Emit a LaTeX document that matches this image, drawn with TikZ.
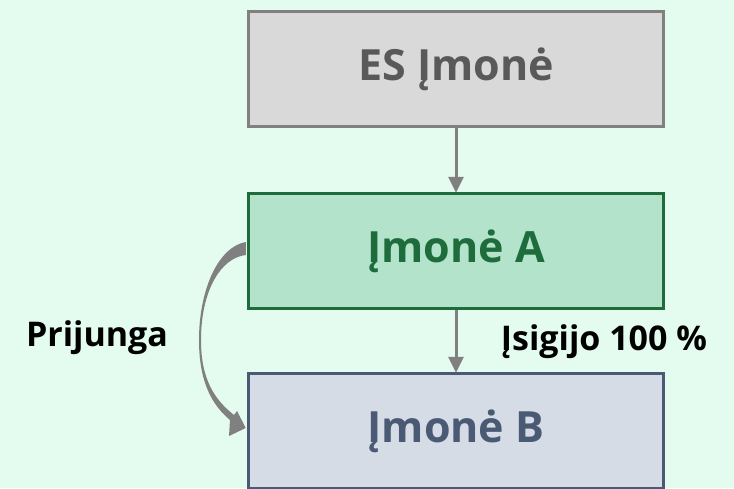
\documentclass[tikz,border=0pt]{standalone}
\usepackage{fontspec}
\setmainfont{Open Sans}
\usetikzlibrary{arrows.meta,calc}
\definecolor{bgc}{HTML}{E3FCEF}
\definecolor{grayfill}{HTML}{D9D9D9}
\definecolor{grayline}{HTML}{808080}
\definecolor{graytext}{HTML}{595959}
\definecolor{greenfill}{HTML}{B3E3CB}
\definecolor{greenline}{HTML}{1E6B3C}
\definecolor{bluefill}{HTML}{D5DCE6}
\definecolor{blueline}{HTML}{4A5A75}
\tikzset{
  box/.style={draw, line width=3.5pt, minimum width=415pt, minimum height=115pt, inner sep=0pt, font=\bfseries\fontsize{43}{50}\selectfont},
  conn/.style={draw=grayline, line width=3pt, -{Triangle[length=16pt,width=15pt]}, shorten >=-1pt},
  lbl/.style={font=\bfseries\fontsize{34}{40}\selectfont, text=black, inner sep=0pt}
}
\begin{document}
\begin{tikzpicture}[x=1pt,y=-1pt]
\fill[bgc] (0,0) rectangle (734,488);
\useasboundingbox (0,0) rectangle (734,488);
\begin{scope}
\clip (0,0) rectangle (734,488);
\node[box, fill=grayfill, draw=grayline, text=graytext] (es) at (456,69) {ES Įmonė};
\node[box, fill=greenfill, draw=greenline, text=greenline] (a) at (456,251) {Įmonė A};
\node[box, fill=bluefill, draw=blueline, text=blueline] (b) at (456,431) {Įmonė B};
\draw[conn] (es.south) -- (a.north);
\draw[conn] (a.south) -- (b.north);
% tapered curved arrow from A to B
\fill[grayline]
  ($(a.west)+(-1,-9)$) .. controls (218,247) and (199,290) .. (199,340)
  .. controls (199,382) and (212,405) .. (230,420)
  -- (229,436) -- ($(b.west)+(-1,-3)$) -- (237,411) -- (234,415)
  .. controls (215,400) and (201,380) .. (201,340)
  .. controls (201,292) and (220,258) .. ($(a.west)+(-1,4)$) -- cycle;
\end{scope}
\node[lbl] (pr) at (97,338) {Prijunga};
\node[lbl] (is) at (604,342) {Įsigijo 100 \%};
\end{tikzpicture}
\end{document}
